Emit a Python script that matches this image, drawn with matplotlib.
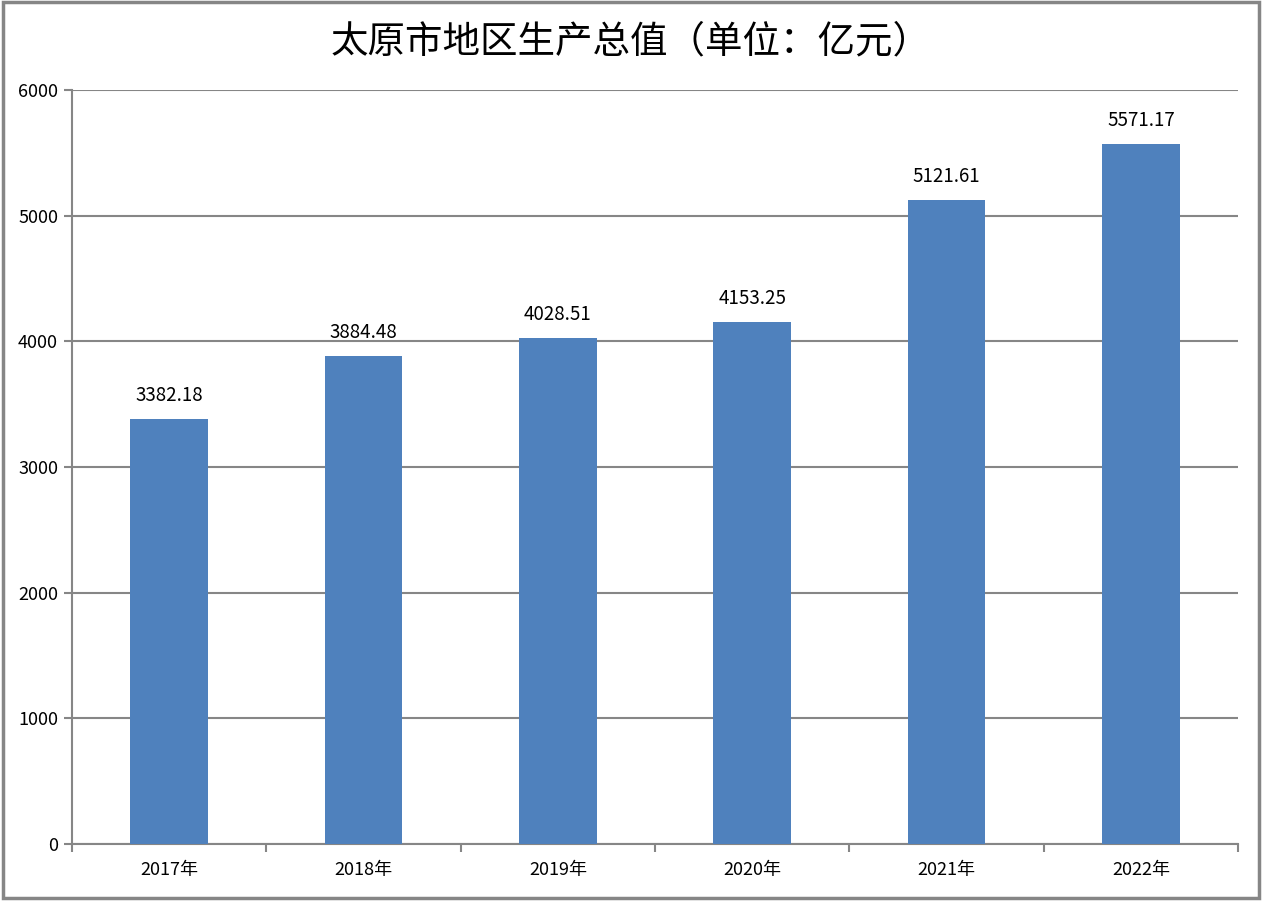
import matplotlib
matplotlib.use('Agg')
import matplotlib.pyplot as plt
from matplotlib.patches import Rectangle
import numpy as np

plt.rcParams['font.family'] = ['Noto Sans CJK SC', 'DejaVu Sans']

years = ['2017年', '2018年', '2019年', '2020年', '2021年', '2022年']
gdp = [3382.18, 3884.48, 4028.51, 4153.25, 5121.61, 5571.17]
yticks = [0, 1000, 2000, 3000, 4000, 5000, 6000]

grey = '#868686'
bar_color = '#4F81BD'


def main():
    fig = plt.figure(figsize=(12.62, 9.01), dpi=100)
    ax = fig.add_axes([72 / 1262, 1 - 844 / 901, (1238 - 72) / 1262, (844 - 90) / 901])

    x = np.arange(len(years))
    ax.bar(x, gdp, width=0.4, color=bar_color, zorder=3)
    for xi, v in zip(x, gdp):
        ax.text(xi, v + 105, '{:.2f}'.format(v), ha='center', va='bottom', fontsize=13.5)

    ax.set_xlim(-0.5, len(years) - 0.5)
    ax.set_ylim(0, 6000)
    ax.set_yticks(yticks)
    ax.yaxis.grid(True, color=grey, linewidth=1.5, zorder=0)
    ax.set_xticks(np.arange(len(years) + 1) - 0.5)
    ax.set_xticklabels([])
    ax.set_xticks(x, minor=True)
    ax.set_xticklabels(years, minor=True, fontsize=13)
    ax.tick_params(axis='x', which='minor', length=0, pad=12)
    ax.tick_params(axis='x', which='major', length=6, width=1.5, color=grey)
    ax.tick_params(axis='y', length=6, width=1.5, color=grey, labelsize=13, pad=4)

    for s in ['top', 'right']:
        ax.spines[s].set_visible(False)
    for s in ['left', 'bottom']:
        ax.spines[s].set_color(grey)
        ax.spines[s].set_linewidth(1.5)

    fig.text(0.5, 1 - 42 / 901, '太原市地区生产总值（单位：亿元）', ha='center', va='center',
             fontsize=27, fontweight='medium')
    fig.patches.append(Rectangle((0.002, 0.003), 0.996, 0.995, transform=fig.transFigure,
                                 fill=False, edgecolor=grey, linewidth=2.5))
    fig.savefig('out.png', dpi=100)


if __name__ == '__main__':
    main()
